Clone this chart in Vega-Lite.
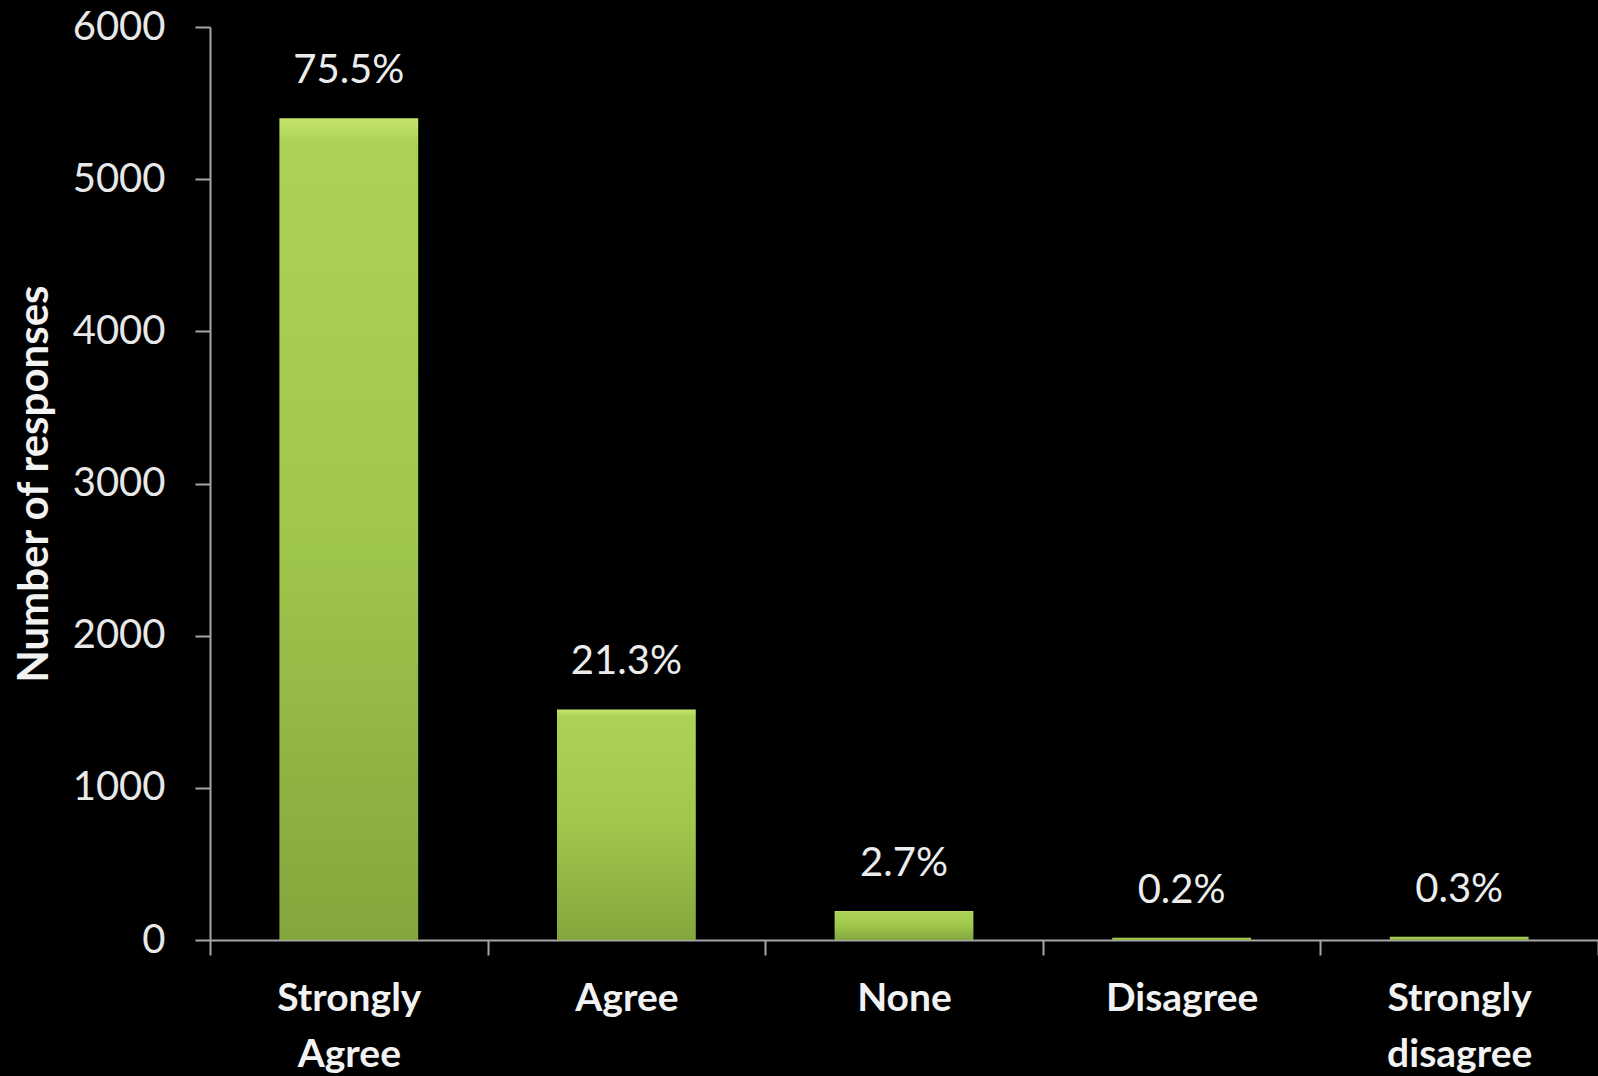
{
  "$schema": "https://vega.github.io/schema/vega-lite/v6.json",
  "width": 1388,
  "height": 913,
  "autosize": {"type": "none"},
  "padding": {"left": 210, "top": 27, "right": 0, "bottom": 136},
  "background": "#000000",
  "config": {
    "view": {"stroke": null},
    "font": "Lato"
  },
  "data": {
    "values": [
      {"category": "Strongly Agree", "count": 5400, "pct": "75.5%"},
      {"category": "Agree", "count": 1515, "pct": "21.3%"},
      {"category": "None", "count": 190, "pct": "2.7%"},
      {"category": "Disagree", "count": 14, "pct": "0.2%"},
      {"category": "Strongly disagree", "count": 21, "pct": "0.3%"}
    ]
  },
  "encoding": {
    "x": {
      "field": "category",
      "type": "nominal",
      "sort": null,
      "scale": {"paddingInner": 0, "paddingOuter": 0},
      "axis": {
        "title": null,
        "labelAngle": 0,
        "labelExpr": "split(datum.label, ' ')",
        "labelColor": "#f2f2f2",
        "labelFont": "Lato",
        "labelFontWeight": "bold",
        "labelFontSize": 39,
        "labelLineHeight": 56,
        "labelPadding": 24,
        "tickBand": "extent",
        "tickSize": 15,
        "tickColor": "#a6a6a6",
        "tickWidth": 2,
        "domainColor": "#a6a6a6",
        "domainWidth": 2,
        "grid": false
      }
    },
    "y": {
      "field": "count",
      "type": "quantitative",
      "scale": {"domain": [0, 6000], "nice": false},
      "axis": {
        "title": "Number of responses",
        "titleColor": "#f2f2f2",
        "titleFont": "Lato",
        "titleFontSize": 42,
        "titleFontWeight": "bold",
        "titlePadding": 16,
        "format": "d",
        "values": [0, 1000, 2000, 3000, 4000, 5000, 6000],
        "labelColor": "#e8e8e8",
        "labelFont": "Lato",
        "labelFontSize": 40,
        "labelPadding": 30,
        "tickSize": 15,
        "tickColor": "#a6a6a6",
        "tickWidth": 2,
        "domainColor": "#a6a6a6",
        "domainWidth": 2,
        "grid": false
      }
    }
  },
  "layer": [
    {
      "mark": {
        "type": "bar",
        "width": {"band": 0.5},
        "color": {
          "gradient": "linear",
          "x1": 0, "y1": 0, "x2": 0, "y2": 1,
          "stops": [
            {"offset": 0, "color": "#c4e56c"},
            {"offset": 0.03, "color": "#acd255"},
            {"offset": 0.5, "color": "#a0c74c"},
            {"offset": 1, "color": "#84a63d"}
          ]
        }
      }
    },
    {
      "mark": {
        "type": "text",
        "baseline": "middle",
        "dy": -47,
        "fontSize": 40,
        "font": "Lato",
        "color": "#ececec"
      },
      "encoding": {
        "text": {"field": "pct"}
      }
    }
  ]
}
